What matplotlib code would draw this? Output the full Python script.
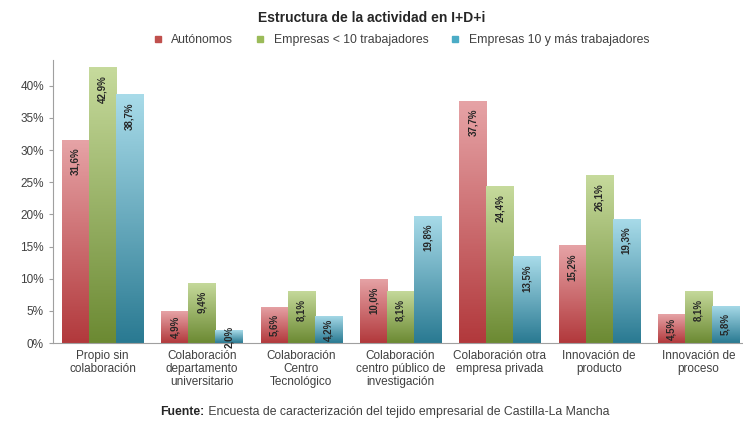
import numpy as np
import matplotlib
matplotlib.use("Agg")
import matplotlib.pyplot as plt
from matplotlib.colors import LinearSegmentedColormap
from matplotlib.lines import Line2D
from matplotlib.ticker import FuncFormatter

plt.rcParams['font.family'] = ['Liberation Sans', 'DejaVu Sans']

# ============================
# Data
# ============================
categories = [
    "Propio sin\ncolaboración",
    "Colaboración\ndepartamento\nuniversitario",
    "Colaboración\nCentro\nTecnológico",
    "Colaboración\ncentro público de\ninvestigación",
    "Colaboración otra\nempresa privada",
    "Innovación de\nproducto",
    "Innovación de\nproceso",
]
series_names = ["Autónomos", "Empresas < 10 trabajadores", "Empresas 10 y más trabajadores"]
autonomos = [31.6, 4.9, 5.6, 10.0, 37.7, 15.2, 4.5]
empresas_menos10 = [42.9, 9.4, 8.1, 8.1, 24.4, 26.1, 8.1]
empresas_mas10 = [38.7, 2.0, 4.2, 19.8, 13.5, 19.3, 5.8]
y_ticks = [0, 5, 10, 15, 20, 25, 30, 35, 40]

title = "Estructura de la actividad en I+D+i"
source_bold = "Fuente:"
source_text = " Encuesta de caracterización del tejido empresarial de Castilla-La Mancha"

# gradient colours (top, bottom) and legend colours
grad_colors = [("#e6a3a6", "#b2393c"), ("#c6da9c", "#6c8a33"), ("#a8dbe9", "#2a7a92")]
legend_colors = ["#c0504d", "#9bbb59", "#4bacc6"]

# ============================
# Figure
# ============================
fig = plt.figure(figsize=(7.43, 4.28), dpi=100)
ax = fig.add_axes([53 / 743, 1 - 343 / 428, 1 - 53 / 743, (343 - 60) / 428])

series = [autonomos, empresas_menos10, empresas_mas10]
x = np.arange(len(categories))
w = 0.272
ymax = 44.0
px_per_unit = (343 - 85) / 40.0

for k, vals in enumerate(series):
    cmap = LinearSegmentedColormap.from_list("g%d" % k, [grad_colors[k][1], grad_colors[k][0]])
    bars = ax.bar(x + (k - 1) * w, vals, width=w, color="none", edgecolor="none")
    for bar, v in zip(bars, vals):
        x0 = bar.get_x()
        grad = np.linspace(0, 1, 100).reshape(-1, 1)
        im = ax.imshow(grad, cmap=cmap, origin="lower", aspect="auto",
                       extent=[x0, x0 + w, 0, v], zorder=2)
        im.set_clip_path(bar)
        # label
        lab = ("%.1f%%" % v).replace(".", ",")
        label_len = 36 / px_per_unit
        gap = 8 / px_per_unit
        if v > label_len + 2 * gap:
            ax.text(x0 + w / 2, v - gap, lab, rotation=90, ha="center", va="top",
                    fontsize=7, fontweight="bold", color="#262626", zorder=3)
        else:
            ax.text(x0 + w / 2, v / 2, lab, rotation=90, ha="center", va="center",
                    fontsize=7, fontweight="bold", color="#262626", zorder=3)

ax.set_xlim(-0.5, 6.45)
ax.set_ylim(0, ymax)
ax.set_yticks(y_ticks)
ax.yaxis.set_major_formatter(FuncFormatter(lambda v, p: "%d%%" % v))
ax.set_xticks(x)
ax.set_xticklabels(categories, fontsize=8.5, color="#404040", linespacing=1.1)
ax.tick_params(axis="x", length=0, pad=5)
ax.tick_params(axis="y", length=3, color="#a0a0a0", labelsize=8.5, labelcolor="#404040")
for s in ["top", "right"]:
    ax.spines[s].set_visible(False)
ax.spines["left"].set_color("#a0a0a0")
ax.spines["bottom"].set_color("#a0a0a0")

fig.text(0.5, 1 - 18 / 428, title, ha="center", va="center",
         fontsize=10, fontweight="bold", color="#262626")

handles = [Line2D([], [], marker="s", linestyle="none", markersize=4,
                  markerfacecolor=c, markeredgecolor=c) for c in legend_colors]
fig.legend(handles, series_names, loc="center", bbox_to_anchor=(0.535, 1 - 40 / 428),
           ncol=3, frameon=False, fontsize=8.8, handletextpad=0.1, columnspacing=1.2,
           labelcolor="#404040")

t1 = fig.text(0.216, 1 - 412 / 428, source_bold, ha="left", va="center",
              fontsize=8.8, fontweight="bold", color="#262626")
fig.canvas.draw()
bb = t1.get_window_extent()
fig.text(bb.x1 / fig.bbox.width, 1 - 412 / 428, source_text, ha="left", va="center",
         fontsize=8.8, color="#404040")

fig.savefig("out.png", dpi=100)
